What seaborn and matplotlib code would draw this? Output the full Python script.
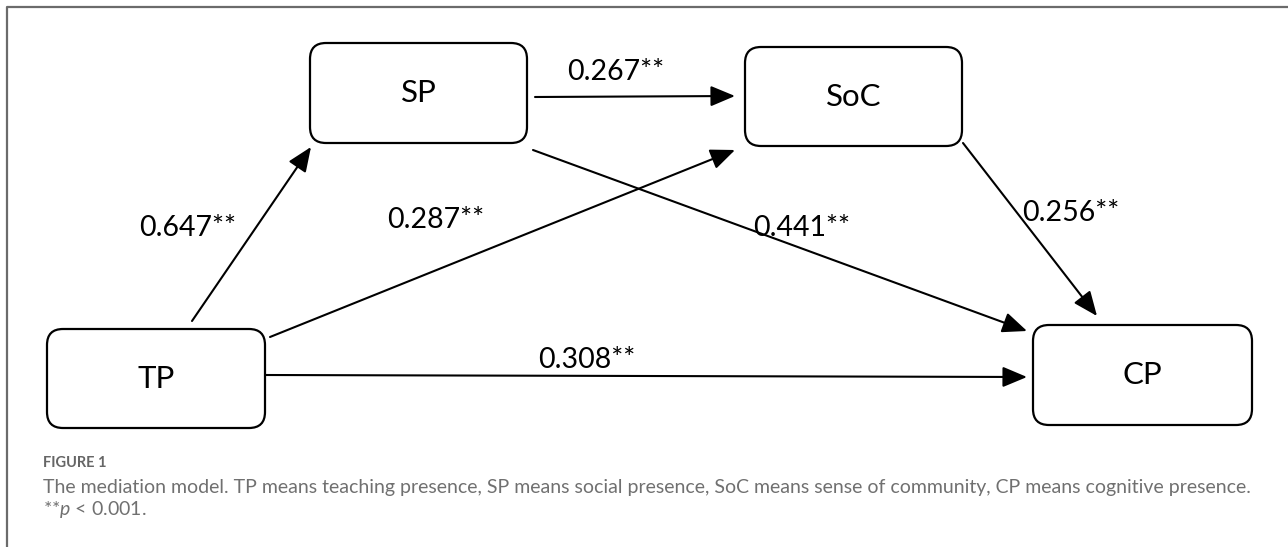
import matplotlib
matplotlib.use('Agg')
import matplotlib.pyplot as plt
import seaborn as sns
from matplotlib.patches import FancyBboxPatch

# model data
nodes = ['TP', 'SP', 'SoC', 'CP']
path_from = ['TP', 'TP', 'SP', 'SP', 'SoC', 'TP']
path_to = ['SP', 'SoC', 'SoC', 'CP', 'CP', 'CP']
coefs = [0.647, 0.287, 0.267, 0.441, 0.256, 0.308]
sig = '**'

fig_label = 'FIGURE 1'
caption = ('The mediation model. TP means teaching presence, SP means social presence, '
           'SoC means sense of community, CP means cognitive presence.')
note = '**$p$ < 0.001.'

# layout (pixel coords, y down)
box = {'TP': (47, 329, 265, 428), 'SP': (310, 43, 527, 143),
       'SoC': (745, 47, 962, 146), 'CP': (1033, 325, 1252, 425)}
edge_xy = [((192, 321), (311, 147)),
           ((270, 337), (735, 150)),
           ((535, 97), (735, 96)),
           ((533, 150), (1027, 331)),
           ((963, 143), (1097, 316)),
           ((265, 375), (1027, 377))]
label_xy = [(139, 228), (387, 220), (567, 72), (753, 228), (1022, 213), (538, 360)]

sns.set_theme(style='white')
plt.rcParams['font.family'] = ['Lato', 'DejaVu Sans']
plt.rcParams['mathtext.fontset'] = 'custom'
plt.rcParams['mathtext.it'] = 'Lato:italic'
plt.rcParams['mathtext.rm'] = 'Lato'

fig = plt.figure(figsize=(12.88, 5.47), dpi=100)
ax = fig.add_axes([0, 0, 1, 1])
ax.set_xlim(0, 1288)
ax.set_ylim(547, 0)
ax.axis('off')

# frame
ax.plot([7, 7, 1288], [547, 7, 7], color='#6b6b6b', lw=1.6, solid_capstyle='butt')

for n in nodes:
    x0, y0, x1, y1 = box[n]
    ax.add_patch(FancyBboxPatch((x0, y0), x1 - x0, y1 - y0,
                                boxstyle='round,pad=0,rounding_size=16',
                                fc='white', ec='black', lw=1.6))
    ax.text((x0 + x1) / 2, (y0 + y1) / 2, n, ha='center', va='center',
            fontsize=22.5, color='black')

for i in range(len(coefs)):
    (sx, sy), (ex, ey) = edge_xy[i]
    ax.annotate('', xy=(ex, ey), xytext=(sx, sy),
                arrowprops=dict(arrowstyle='-|>,head_length=1.0,head_width=0.42',
                                mutation_scale=15, lw=1.5, color='black',
                                shrinkA=0, shrinkB=0))
    lx, ly = label_xy[i]
    ax.text(lx, ly, f'{coefs[i]:.3f}{sig}', ha='left', va='center',
            fontsize=20.5, color='black')

ax.text(43, 463, fig_label, ha='left', va='center', fontsize=10.5,
        fontweight='bold', color='#666666')
ax.text(43, 487, caption, ha='left', va='center', fontsize=14,
        color='#707070')
ax.text(43, 509, note, ha='left', va='center', fontsize=14,
        color='#707070')

fig.savefig('out.png', dpi=100)
